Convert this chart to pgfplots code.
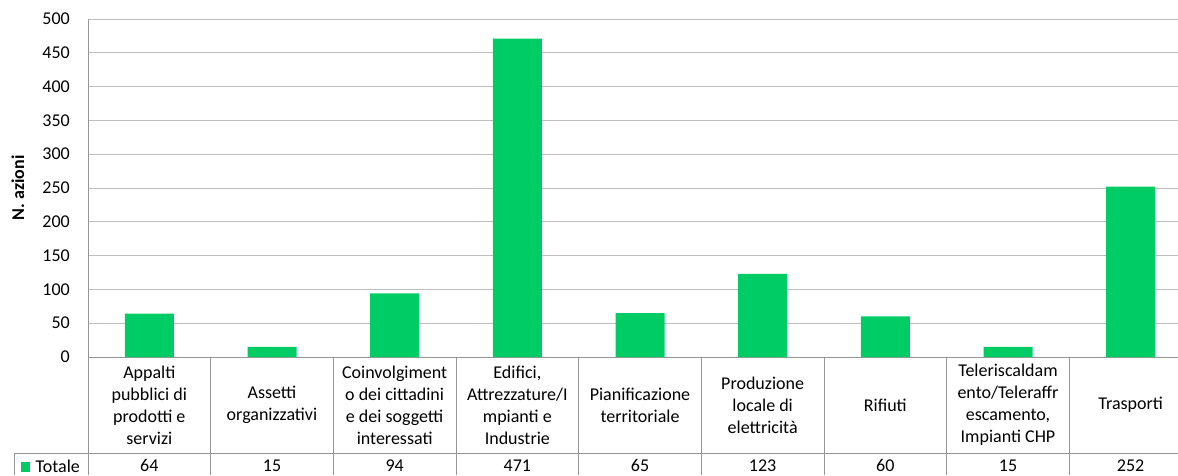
\documentclass[border=0pt]{standalone}
\usepackage{pgfplots}
\pgfplotsset{compat=1.18}
\usepackage{pgfplotstable}
\usepackage{fontspec}
\setmainfont{Carlito}

\definecolor{barGreen}{RGB}{0,204,102}
\definecolor{gridGray}{RGB}{190,190,190}
\definecolor{lineGray}{RGB}{150,150,150}

% Numero di azioni per settore
\pgfplotstableread[col sep=comma]{
i,v
0,64
1,15
2,94
3,471
4,65
5,123
6,60
7,15
8,252
}\azioni

\begin{document}
\fontsize{18}{22}\selectfont
\begin{tikzpicture}[x=1pt,y=1pt]
\begin{axis}[
  at={(88pt,118pt)}, anchor=south west,
  width=1104pt, height=338pt, scale only axis,
  xmin=-0.5, xmax=8.5, ymin=0, ymax=500,
  ytick={0,50,...,500},
  xtick={0,...,8},
  xticklabels={
    {Appalti\\pubblici di\\prodotti e\\servizi},
    {Assetti\\organizzativi},
    {Coinvolgiment\\o dei cittadini\\e dei soggetti\\interessati},
    {Edifici,\\Attrezzature/I\\mpianti e\\Industrie},
    {Pianificazione\\territoriale},
    {Produzione\\locale di\\elettricità},
    {Rifiuti},
    {Teleriscaldam\\ento/Teleraffr\\escamento,\\Impianti CHP},
    {Trasporti}},
  axis x line*=bottom, axis y line*=left,
  axis line style={draw=lineGray, line width=1pt},
  ymajorgrids, grid style={draw=gridGray, line width=1pt},
  major tick length=0pt, tick style={draw=none},
  /pgf/number format/assume math mode=true,
  yticklabel style={anchor=east, xshift=-12pt},
  xticklabel style={align=center, anchor=center, yshift=-48pt},
  clip=false,
]
\addplot[ybar, bar width=49pt, bar shift=0pt, fill=barGreen, draw=none]
  table[x=i, y=v] {\azioni};
% riga dei valori nella tabella dati
\addplot[draw=none, mark=none, forget plot, point meta=explicit,
  nodes near coords,
  every node near coord/.append style={anchor=center, yshift=-108.5pt, font=\fontsize{18}{22}\selectfont}]
  table[x=i, y expr=0, meta=v] {\azioni};
\end{axis}
% griglia della tabella dati
\foreach \k in {0,...,9}
  \draw[lineGray, line width=1pt] ({88+122.67*\k},118) -- ({88+122.67*\k},0);
\draw[lineGray, line width=1pt] (14,22) -- (1200,22);
\draw[lineGray, line width=1pt] (14,22) -- (14,0);
% chiave della legenda
\fill[barGreen] (21,3) rectangle (30,13);
\node[anchor=west, inner sep=0pt] at (35.5,9) {Totale};
\node[rotate=90, font=\bfseries] at (18,287) {N. azioni};
\pgfresetboundingbox
\path[use as bounding box] (0,0) rectangle (1178,475);
\end{tikzpicture}
\end{document}
